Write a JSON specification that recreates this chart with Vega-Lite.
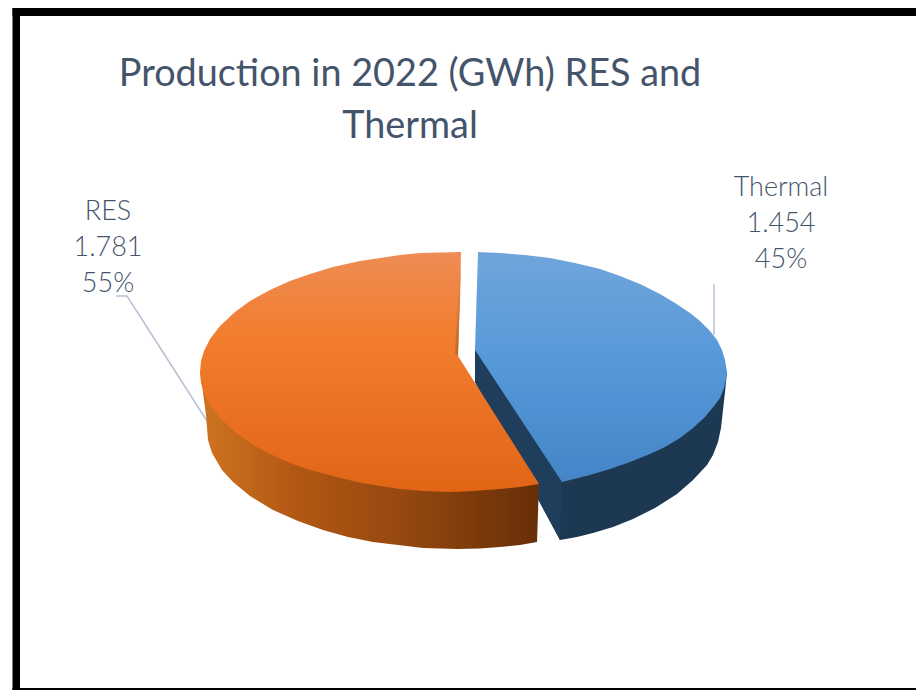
{"$schema":"https://vega.github.io/schema/vega-lite/v6.json","width":916,"height":690,"padding":0,"autosize":"none","background":"white","view":{"stroke":null},
"title":{"text":["Production in 2022 (GWh) RES and","Thermal"],"font":"Lato","fontSize":37.8,"fontWeight":"normal","color":"#44546a","anchor":"middle","offset":0,"dx":-48,"dy":146,"lineHeight":52},
"datasets":{
"frame":[{"x":12.5,"x2":20,"y":8,"y2":690},{"x":12.5,"x2":916,"y":8,"y2":16},{"x":12.5,"x2":916,"y":688,"y2":690}],
"labels":[{"label":"RES\n1.781\n55%","x":108,"y":212},{"label":"Thermal\n1.454\n45%","x":781,"y":188}],
"leaders":[{"g":"RES","i":0,"x":116,"y":296},{"g":"RES","i":1,"x":127,"y":296},{"g":"RES","i":2,"x":207,"y":421},{"g":"Thermal","i":0,"x":714,"y":284},{"g":"Thermal","i":1,"x":714,"y":335}],
"blueSide":[{"i":0,"x":475,"y":350},{"i":1,"x":475,"y":382},{"i":2,"x":560,"y":540},{"i":3,"x":577,"y":537},{"i":4,"x":593,"y":533},{"i":5,"x":613,"y":527},{"i":6,"x":633,"y":519},{"i":7,"x":655,"y":508},{"i":8,"x":677,"y":494},{"i":9,"x":693,"y":480},{"i":10,"x":707,"y":465},{"i":11,"x":713,"y":455},{"i":12,"x":718,"y":442},{"i":13,"x":721,"y":428},{"i":14,"x":723,"y":410},{"i":15,"x":725,"y":392},{"i":16,"x":727,"y":372}],
"blueInner":[{"i":0,"x":475,"y":350},{"i":1,"x":475,"y":382},{"i":2,"x":560,"y":540},{"i":3,"x":562,"y":482}],
"blueTop":[{"i":0,"x":478,"y":252},{"i":1,"x":500,"y":253},{"i":2,"x":525,"y":255},{"i":3,"x":550,"y":258},{"i":4,"x":575,"y":263},{"i":5,"x":600,"y":269},{"i":6,"x":620,"y":276},{"i":7,"x":640,"y":284},{"i":8,"x":660,"y":294},{"i":9,"x":675,"y":303},{"i":10,"x":690,"y":313},{"i":11,"x":700,"y":321},{"i":12,"x":710,"y":331},{"i":13,"x":717,"y":340},{"i":14,"x":722,"y":350},{"i":15,"x":725,"y":360},{"i":16,"x":727,"y":372},{"i":17,"x":726,"y":379},{"i":18,"x":724,"y":388},{"i":19,"x":720,"y":398},{"i":20,"x":714,"y":406},{"i":21,"x":705,"y":417},{"i":22,"x":693,"y":428},{"i":23,"x":680,"y":438},{"i":24,"x":665,"y":447},{"i":25,"x":650,"y":454},{"i":26,"x":630,"y":462},{"i":27,"x":610,"y":469},{"i":28,"x":590,"y":475},{"i":29,"x":562,"y":482},{"i":30,"x":475,"y":350}],
"orangeSide":[{"i":0,"x":200,"y":372},{"i":1,"x":202,"y":385},{"i":2,"x":204,"y":400},{"i":3,"x":206,"y":415},{"i":4,"x":207,"y":428},{"i":5,"x":208,"y":440},{"i":6,"x":212,"y":453},{"i":7,"x":222,"y":470},{"i":8,"x":233,"y":482},{"i":9,"x":250,"y":496},{"i":10,"x":273,"y":510},{"i":11,"x":298,"y":521},{"i":12,"x":323,"y":530},{"i":13,"x":348,"y":537},{"i":14,"x":373,"y":542},{"i":15,"x":398,"y":545},{"i":16,"x":423,"y":548},{"i":17,"x":457,"y":549},{"i":18,"x":480,"y":548.5},{"i":19,"x":500,"y":547},{"i":20,"x":520,"y":545},{"i":21,"x":537,"y":542},{"i":22,"x":539,"y":484}],
"orangeTop":[{"i":0,"x":461,"y":252},{"i":1,"x":440,"y":252.5},{"i":2,"x":420,"y":253},{"i":3,"x":400,"y":255},{"i":4,"x":380,"y":258},{"i":5,"x":360,"y":261},{"i":6,"x":333,"y":267},{"i":7,"x":310,"y":274},{"i":8,"x":290,"y":281},{"i":9,"x":270,"y":290},{"i":10,"x":250,"y":301},{"i":11,"x":235,"y":312},{"i":12,"x":220,"y":326},{"i":13,"x":210,"y":339},{"i":14,"x":204,"y":351},{"i":15,"x":201,"y":361},{"i":16,"x":200,"y":372},{"i":17,"x":201,"y":383},{"i":18,"x":204,"y":393},{"i":19,"x":210,"y":405},{"i":20,"x":220,"y":418},{"i":21,"x":235,"y":432},{"i":22,"x":250,"y":443},{"i":23,"x":270,"y":454},{"i":24,"x":290,"y":463},{"i":25,"x":310,"y":470},{"i":26,"x":333,"y":476},{"i":27,"x":357,"y":482},{"i":28,"x":380,"y":486},{"i":29,"x":400,"y":489},{"i":30,"x":423,"y":491},{"i":31,"x":450,"y":492},{"i":32,"x":473,"y":491},{"i":33,"x":500,"y":489},{"i":34,"x":520,"y":487},{"i":35,"x":539,"y":484},{"i":36,"x":458,"y":356}],
"orangeSliver":[{"i":0,"x":461,"y":262},{"i":1,"x":460,"y":300},{"i":2,"x":458,"y":356},{"i":3,"x":455,"y":353},{"i":4,"x":458,"y":300}]
},
"encoding":{
"x":{"field":"x","type":"quantitative","scale":{"domain":[0,916],"nice":false,"zero":false},"axis":null},
"y":{"field":"y","type":"quantitative","scale":{"domain":[0,690],"reverse":true,"nice":false,"zero":false},"axis":null}
},
"layer":[
{"data":{"name":"leaders"},"mark":{"type":"line","stroke":"#b4c2d4","strokeWidth":1.5},"encoding":{"detail":{"field":"g"},"order":{"field":"i"}}},
{"data":{"name":"blueSide"},"mark":{"type":"line","fill":"#1c3853","stroke":null},"encoding":{"order":{"field":"i"}}},
{"data":{"name":"blueInner"},"mark":{"type":"line","fill":"#1f3e5c","stroke":null},"encoding":{"order":{"field":"i"}}},
{"data":{"name":"orangeSide"},"mark":{"type":"line","stroke":null,"fill":{"gradient":"linear","x1":0,"y1":0,"x2":1,"y2":0,"stops":[{"offset":0,"color":"#cf7420"},{"offset":0.3,"color":"#b05613"},{"offset":0.6,"color":"#95480f"},{"offset":1,"color":"#672e07"}]}},"encoding":{"order":{"field":"i"}}},
{"data":{"name":"orangeTop"},"mark":{"type":"line","stroke":null,"fill":{"gradient":"linear","x1":0,"y1":0,"x2":0,"y2":1,"stops":[{"offset":0,"color":"#ee8c55"},{"offset":0.35,"color":"#f27d2e"},{"offset":1,"color":"#e26516"}]}},"encoding":{"order":{"field":"i"}}},
{"data":{"name":"orangeSliver"},"mark":{"type":"line","stroke":null,"fill":{"gradient":"linear","x1":0,"y1":0,"x2":0,"y2":1,"stops":[{"offset":0,"color":"#ec8a4f"},{"offset":1,"color":"#bd6a28"}]}},"encoding":{"order":{"field":"i"}}},
{"data":{"name":"blueTop"},"mark":{"type":"line","stroke":null,"fill":{"gradient":"linear","x1":0,"y1":0,"x2":0,"y2":1,"stops":[{"offset":0,"color":"#70a5dc"},{"offset":0.5,"color":"#5598d8"},{"offset":1,"color":"#4585c7"}]}},"encoding":{"order":{"field":"i"}}},
{"data":{"name":"frame"},"mark":{"type":"rect","color":"black"},"encoding":{"x2":{"field":"x2"},"y2":{"field":"y2"}}},
{"data":{"name":"labels"},"mark":{"type":"text","font":"Lato","fontSize":27,"fontWeight":300,"color":"#44546a","align":"center","baseline":"middle","lineBreak":"\n","lineHeight":36},"encoding":{"text":{"field":"label"}}}
]}
